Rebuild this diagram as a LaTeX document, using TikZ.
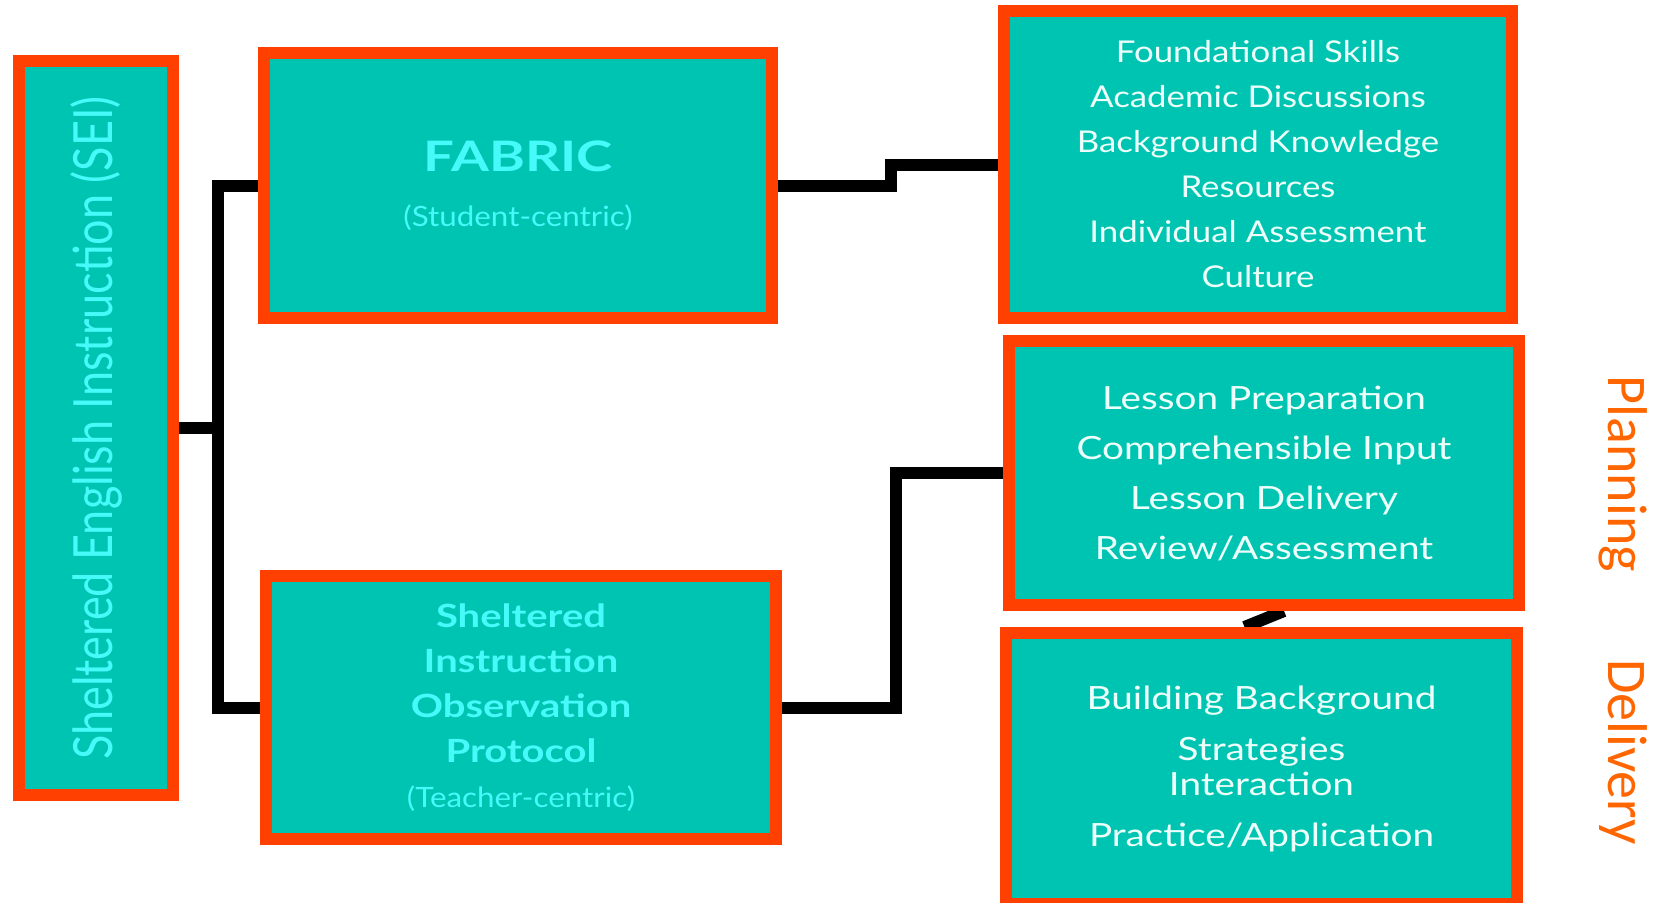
\documentclass[tikz,border=0pt]{standalone}
\usepackage{fontspec}
\setmainfont{Lato}
\newfontfamily\calfont{Carlito}
\newfontfamily\stA[FakeStretch=1.16]{Lato}
\newfontfamily\stB[FakeStretch=1.21]{Lato}
\newfontfamily\stC[FakeStretch=1.30]{Lato}
\newfontfamily\stD[FakeStretch=1.12]{Lato}
\newfontfamily\stE[FakeStretch=1.25]{Lato}
\usetikzlibrary{backgrounds,calc}
\definecolor{tealfill}{RGB}{0,196,178}
\definecolor{orng}{RGB}{255,64,0}
\definecolor{cyantxt}{RGB}{70,250,250}
\definecolor{lighttxt}{RGB}{236,255,250}
\definecolor{sideorange}{RGB}{255,102,0}
\begin{document}
\begin{tikzpicture}[x=1pt,y=-1pt,
  box/.style={draw=orng, fill=tealfill, line width=12pt, inner sep=0pt, align=center},
  lefttxt/.style={text=cyantxt},
  righttxt/.style={text=lighttxt},
  conn/.style={line width=12pt, draw=black},
  sidelabel/.style={text=sideorange, font=\calfont\fontsize{56}{56}\selectfont, rotate=-90, inner sep=0pt}
]
\useasboundingbox (0,0) rectangle (1653,902);
\clip (0,0) rectangle (1653,902);

\node[box, lefttxt, minimum width=154pt, minimum height=734pt] (sei) at (96,428)
  {\rotatebox{90}{\scalebox{1}[1.2]{\fontsize{45}{45}\selectfont Sheltered English Instruction (SEI)}}};

\node[box, lefttxt, minimum width=508pt, minimum height=265pt,
      font=\stD\fontsize{28}{55}\selectfont] (fabric) at (518,185.5)
  {{\stC\fontsize{42}{55}\selectfont\bfseries FABRIC}\\(Student-centric)};

\node[box, lefttxt, minimum width=510pt, minimum height=263pt,
      font=\stD\fontsize{28}{45}\selectfont] (siop) at (521,707.5)
  {{\stE\fontsize{32}{45}\selectfont\bfseries Sheltered}\\
   {\stE\fontsize{32}{45}\selectfont\bfseries Instruction}\\
   {\stE\fontsize{32}{45}\selectfont\bfseries Observation}\\
   {\stE\fontsize{32}{45}\selectfont\bfseries Protocol}\\
   (Teacher-centric)};

\node[box, righttxt, minimum width=508pt, minimum height=307pt,
      font=\stA\fontsize{30}{45}\selectfont] (tr) at (1258,164.5)
  {Foundational Skills\\Academic Discussions\\Background Knowledge\\Resources\\Individual Assessment\\Culture};

\node[box, righttxt, minimum width=510pt, minimum height=264pt,
      font=\stB\fontsize{32}{50}\selectfont] (mr) at (1264,473)
  {Lesson Preparation\\Comprehensible Input\\Lesson Delivery\\Review/Assessment};

\node[box, righttxt, minimum width=511pt, minimum height=271pt,
      font=\stB\fontsize{32}{51}\selectfont] (br) at (1261.5,768.5)
  {Building Background\\Strategies\\[-16pt]Interaction\\Practice/Application};

\node[sidelabel] (plan) at (1623,474) {Planning};
\node[sidelabel] (deliv) at (1623,752) {Delivery};

\begin{pgfonlayer}{background}
  \fill[white] (0,0) rectangle (1653,902);
  \coordinate (j) at (218,428);
  \coordinate (k1) at (891,164.5);
  \coordinate (k2) at (896,473);
  \draw[conn] (sei.east) -- (j);
  \draw[conn] (fabric.west) -| (j) |- (siop.west);
  \draw[conn] (fabric.east) -| (k1) -- (tr.west);
  \draw[conn] (siop.east) -| (k2) -- (mr.west);
  \draw[conn] ($(mr.south)+(20,0)$) -- ($(br.north)+(-17,0)$);
\end{pgfonlayer}
\end{tikzpicture}
\end{document}
